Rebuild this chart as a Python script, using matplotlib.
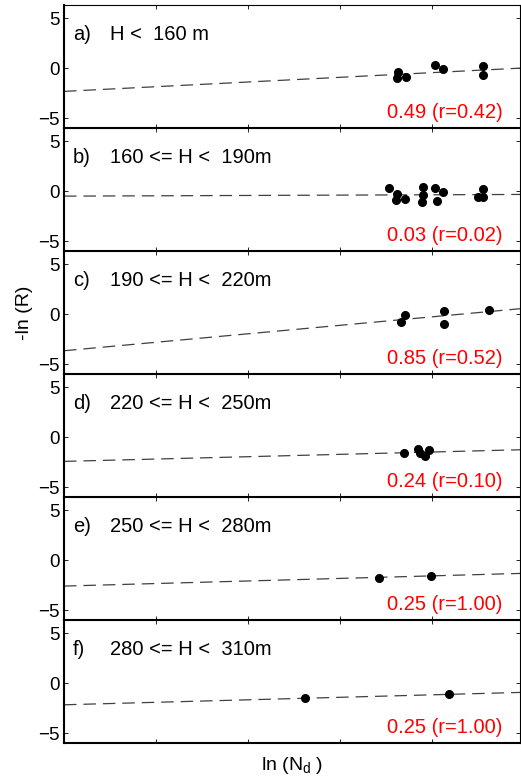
import matplotlib
matplotlib.use("Agg")
import matplotlib.pyplot as plt
import numpy as np

plt.rcParams['font.family'] = ['Liberation Sans', 'DejaVu Sans']
plt.rcParams['lines.scale_dashes'] = False

letters = ["a)", "b)", "c)", "d)", "e)", "f)"]
ranges = ["H <  160 m", "160 <= H <  190m", "190 <= H <  220m",
          "220 <= H <  250m", "250 <= H <  280m", "280 <= H <  310m"]
slope_text = ["0.49 (r=0.42)", "0.03 (r=0.02)", "0.85 (r=0.52)",
              "0.24 (r=0.10)", "0.25 (r=1.00)", "0.25 (r=1.00)"]

x_a = [3.62, 3.63, 3.72, 4.03, 4.12, 4.56, 4.56]
y_a = [-1.0, -0.40, -0.87, 0.33, -0.13, 0.20, -0.73]
x_b = [3.53, 3.62, 3.61, 3.71, 3.90, 3.90, 3.89, 4.03, 4.12, 4.06, 4.56, 4.50, 4.56]
y_b = [0.33, -0.33, -0.93, -0.77, 0.43, -0.43, -1.10, 0.33, -0.10, -1.0, 0.23, -0.60, -0.60]
x_c = [3.66, 3.71, 4.13, 4.13, 4.62]
y_c = [-0.83, -0.07, 0.33, -1.0, 0.43]
x_d = [3.70, 3.85, 3.87, 3.92, 3.97]
y_d = [-1.63, -1.16, -1.60, -1.86, -1.26]
x_e = [3.42, 3.99]
y_e = [-1.75, -1.60]
x_f = [2.62, 4.19]
y_f = [-1.51, -1.12]

xs = [x_a, x_b, x_c, x_d, x_e, x_f]
ys = [y_a, y_b, y_c, y_d, y_e, y_f]

fit_slope = [0.47, 0.034, 0.85, 0.235, 0.256, 0.25]
fit_intercept = [-2.33, -0.50, -3.67, -2.43, -2.60, -2.17]

xlim = (0, 4.957)
ylim = (-6, 6.33)
yticks = [-5, 0, 5]
xticks = [1, 2, 3, 4]

fig = plt.figure(figsize=(5.21, 7.83), dpi=100)
left, right = 64/521, 520/521
top, bottom = 1 - 5/783, 1 - 743/783
h = (top - bottom) / 6

for i in range(6):
    ax = fig.add_axes([left, top - (i + 1) * h, right - left, h])
    xl = np.array(xlim)
    ax.plot(xl, fit_intercept[i] + fit_slope[i] * xl, color='0.25', lw=0.9,
            dashes=(9, 5), zorder=2)
    ax.plot(xs[i], ys[i], 'o', color='black', ms=5.5, zorder=3)
    ax.set_xlim(*xlim)
    ax.set_ylim(*ylim)
    ax.set_yticks(yticks)
    ax.set_yticklabels(["\u22125", "0", "5"])
    ax.set_xticks(xticks)
    ax.tick_params(axis='both', direction='in', length=3, width=0.6,
                   top=True, right=True, labelsize=13.5)
    ax.tick_params(axis='x', labelbottom=False)
    ax.tick_params(axis='y', pad=3)
    ax.spines['left'].set_linewidth(1.5)
    ax.spines['bottom'].set_linewidth(1.5)
    ax.spines['top'].set_linewidth(0.8)
    ax.spines['right'].set_linewidth(0.8)
    ax.text(0.098, 3.4, letters[i], fontsize=14.5, va='center', ha='left')
    ax.text(0.50, 3.4, ranges[i], fontsize=14.5, va='center', ha='left')
    ax.text(4.77, -4.4, slope_text[i], fontsize=14.5, va='center', ha='right',
            color='#ff0000')
    if i == 2:
        ax.set_ylabel("-ln (R)", fontsize=14, labelpad=4)
    if i == 5:
        ax.set_xlabel("ln (N$_\\mathregular{d}$ )", fontsize=14, labelpad=9)

fig.savefig("out.png", dpi=100)
